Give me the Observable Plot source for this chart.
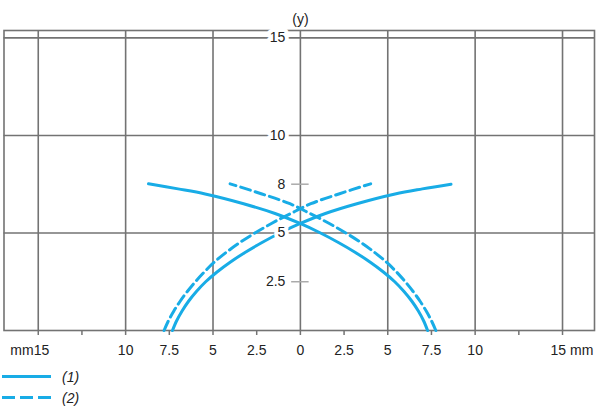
<!DOCTYPE html>
<html><head><meta charset="utf-8">
<script src="https://cdn.jsdelivr.net/npm/d3@7"></script>
<script src="https://cdn.jsdelivr.net/npm/@observablehq/plot@0.6"></script>
<style>
body{margin:0;background:#fff;font-family:"Liberation Sans",Arial,sans-serif;}
#legend{position:relative;height:48px;padding-top:4px;}
.row{display:flex;align-items:center;height:21px;}
.row span{font-style:italic;font-size:14px;color:#222;margin-left:10px;}
</style></head><body>
<div id="chart"></div>
<div id="legend"></div>
<script>
// ---- data ----
const xGrid = [-15, -10, -5, 0, 5, 10, 15];
const yGrid = [5, 10, 15];
const xTicks = [-15, -12.5, -10, -7.5, -5, -2.5, 0, 2.5, 5, 7.5, 10, 12.5, 15];
const xLabelValues = [-10, -7.5, -5, -2.5, 0, 2.5, 5, 7.5, 10];
const yLabelValues = [2.5, 5, 7.5, 10, 15];
const yLabelTexts = ["2.5", "5", "8", "10", "15"];
const yMinorTicks = [2.5, 7.5];
const seriesNames = ["(1)", "(2)"];
const seriesColor = "#18ace6";

// (1) solid, descending branch  [x mm, y]
const curve1Down = [[7.28,0],[7.05,0.5],[6.75,1],[6.38,1.5],[5.93,2],[5.4,2.5],[4.75,3],[4.0,3.5],[3.15,4],[2.2,4.5],[1.15,5],[-0.05,5.5],[-1.45,6],[-3.25,6.5],[-5.45,7],[-7.0,7.26],[-8.69,7.52]];
// (1) solid, ascending branch
const curve1Up = [[-7.32,0],[-7.08,0.5],[-6.77,1],[-6.4,1.5],[-5.95,2],[-5.42,2.5],[-4.77,3],[-4.02,3.5],[-3.17,4],[-2.22,4.5],[-1.17,5],[0.03,5.5],[1.43,6],[3.23,6.5],[5.42,7],[6.98,7.26],[8.62,7.5]];
// (2) dashed, descending branch
const curve2Down = [[7.75,0],[7.5,0.5],[7.2,1],[6.85,1.5],[6.45,2],[6.0,2.5],[5.5,3],[4.93,3.5],[4.25,4],[3.48,4.5],[2.6,5],[1.63,5.5],[0.55,6],[-0.6,6.5],[-2.2,7],[-4.02,7.52]];
// (2) dashed, ascending branch
const curve2Up = [[-7.8,0],[-7.55,0.5],[-7.24,1],[-6.88,1.5],[-6.47,2],[-6.01,2.5],[-5.5,3],[-4.93,3.5],[-4.25,4],[-3.48,4.5],[-2.6,5],[-1.63,5.5],[-0.55,6],[0.6,6.5],[2.2,7],[4.02,7.52]];

const toRows = (pts, series, branch) => pts.map(([x, y]) => ({x, y, series, branch}));
const rows1 = [...toRows(curve1Down, seriesNames[0], "down"), ...toRows(curve1Up, seriesNames[0], "up")];
const rows2 = [...toRows(curve2Down, seriesNames[1], "down"), ...toRows(curve2Up, seriesNames[1], "up")];
const yLabels = yLabelValues.map((v, i) => ({v, t: yLabelTexts[i]}));

const gridColor = "#737373";
const chart = Plot.plot({
  width: 600,
  height: 362,
  marginTop: 30,
  marginBottom: 32,
  marginLeft: 3.5,
  marginRight: 6,
  style: {fontFamily: "Liberation Sans, Arial, sans-serif", fontSize: "14px", color: "#222", background: "#fff"},
  x: {domain: [-16.96, 16.83], label: null},
  y: {domain: [0, 15.38], axis: null, label: null},
  marks: [
    Plot.ruleX(xGrid, {stroke: gridColor, strokeWidth: 1.6}),
    Plot.ruleY(yGrid, {stroke: gridColor, strokeWidth: 1.6}),
    Plot.frame({stroke: gridColor, strokeWidth: 1.6}),
    Plot.ruleY(yMinorTicks, {x1: -0.5, x2: 0.5, stroke: "#aaa", strokeWidth: 1.5}),
    Plot.axisX(xTicks, {tickSize: 5, tickFormat: () => "", stroke: gridColor, strokeWidth: 1.5, label: null}),
    Plot.axisX(xLabelValues, {tickSize: 0, tickPadding: 15, tickFormat: d => String(Math.abs(d)), fill: "#222", label: null}),
    Plot.axisX([-15], {tickSize: 0, tickPadding: 15, tickFormat: () => "mm15", textAnchor: "end", dx: 11, fill: "#222", label: null}),
    Plot.axisX([15], {tickSize: 0, tickPadding: 15, tickFormat: () => "15 mm", textAnchor: "start", dx: -12, fill: "#222", label: null}),
    Plot.line(rows1, {x: "x", y: "y", z: "branch", stroke: seriesColor, strokeWidth: 3, curve: "catmull-rom"}),
    Plot.line(rows2, {x: "x", y: "y", z: "branch", stroke: seriesColor, strokeWidth: 3, strokeDasharray: "10,5", curve: "catmull-rom"}),
    Plot.text(yLabels, {x: 0, y: "v", text: "t", textAnchor: "end", dx: -15, fill: "#222", stroke: "white", strokeWidth: 8}),
    Plot.text(["(y)"], {x: 0, frameAnchor: "top", dy: -16, text: d => d, fill: "#222"})
  ]
});
document.getElementById("chart").appendChild(chart);

const legend = document.getElementById("legend");
seriesNames.forEach((name, i) => {
  const row = document.createElement("div");
  row.className = "row";
  row.innerHTML = `<svg width="52" height="21"><line x1="2" x2="51" y1="10.5" y2="10.5" stroke="${seriesColor}" stroke-width="3" ${i === 1 ? 'stroke-dasharray="13,5"' : ''}/></svg><span>${name}</span>`;
  legend.appendChild(row);
});
</script>
</body></html>
